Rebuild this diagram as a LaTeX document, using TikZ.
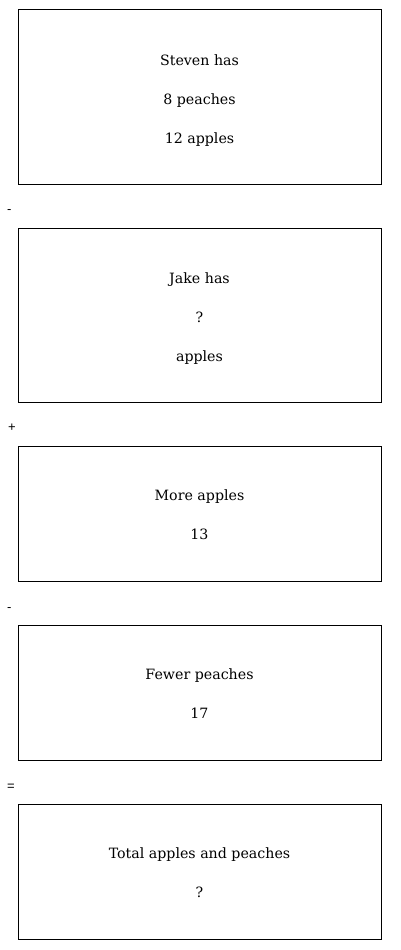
\documentclass[tikz,border=0pt]{standalone}
\usepackage{fontspec}
\setmainfont{DejaVu Serif}
\newfontfamily\opfont{Liberation Sans}
\usetikzlibrary{positioning}

\tikzset{
    stepbox/.style={draw, line width=1pt, outer sep=0pt, minimum width=363pt, inner sep=0pt, align=center,
        font=\fontsize{14.2}{39}\selectfont, text depth=0pt},
    tallbox/.style={stepbox, minimum height=174pt, text height=92pt},
    shortbox/.style={stepbox, minimum height=135pt, text height=51pt},
    opsign/.style={font=\opfont\fontsize{13}{13}\selectfont, inner sep=0pt, anchor=base west}
}

\begin{document}
\begin{tikzpicture}[x=1pt, y=-1pt]
    \useasboundingbox (0,0) rectangle (400,950);
    \node[tallbox] (steven) at (199.5,97) {Steven has\\8 peaches\\12 apples};
    \node[tallbox, below=44pt of steven] (jake) {Jake has\\?\\apples};
    \node[shortbox, below=44pt of jake] (more) {More apples\\13};
    \node[shortbox, below=44pt of more] (fewer) {Fewer peaches\\17};
    \node[shortbox, below=44pt of fewer] (total) {Total apples and peaches\\?};
    % operators between the boxes
    \node[opsign] (minusA) at (7,213) {-};
    \node[opsign] (plus) at (8,431) {+};
    \node[opsign] (minusB) at (7,611) {-};
    \node[opsign] (equals) at (7,790) {=};
\end{tikzpicture}
\end{document}
